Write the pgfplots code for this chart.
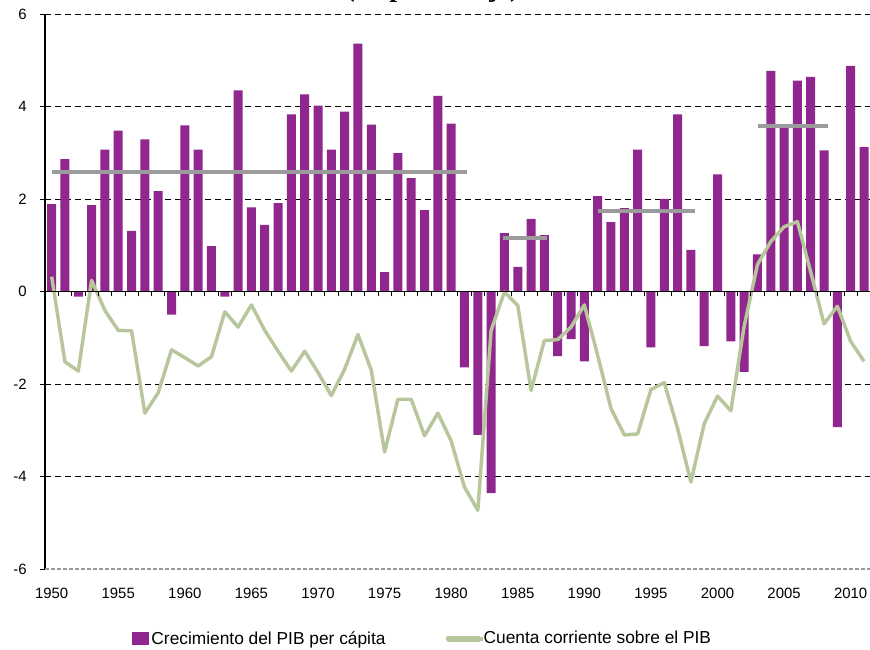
\documentclass[border=0pt]{standalone}
\usepackage{pgfplots}
\pgfplotsset{compat=1.18}
\usepackage{fontspec}
\setmainfont{Liberation Sans}
\newfontfamily\titlefont{Liberation Serif}
\definecolor{barpurple}{RGB}{143,39,143}
\definecolor{linegreen}{RGB}{183,199,155}
\definecolor{avggray}{RGB}{155,155,155}
\begin{document}
\begin{tikzpicture}[x=1pt,y=1pt]
\useasboundingbox (0,0) rectangle (652.5,486.75);
\node[anchor=base, font=\titlefont\bfseries\itshape\fontsize{21}{25}\selectfont] at (326,489) {(en porcentaje)};
\begin{axis}[
  at={(33.75pt,60pt)}, anchor=south west, scale only axis,
  width=618.75pt, height=416.25pt,
  xmin=1949.5, xmax=2011.45, ymin=-6, ymax=6,
  axis y line=left, axis x line*=bottom, axis line style={-},
  x axis line style={draw=none},
  y axis line style={black, line width=0.8pt},
  ytick={-4,-2,...,6},
  extra y ticks={-6},
  extra y tick style={grid style={gray!80, line width=0.8pt, dash pattern=on 3pt off 1.5pt}},
  xtick={1950,1955,...,2010},
  xtick style={draw=none},
  ytick style={black, line width=0.6pt},
  tick align=outside, major tick length=3.75pt,
  ymajorgrids,
  grid style={black, line width=0.6pt, dash pattern=on 4.5pt off 3pt},
  x tick label style={/pgf/number format/1000 sep={}, yshift=-7pt},
  yticklabel shift=6.5pt,
  tick label style={font=\fontsize{11.2}{13}\selectfont},
  /pgf/number format/assume math mode=true,
  legend style={at={(0.1006,-0.1256)}, anchor=west, draw=none, fill=none,
    legend columns=2, font=\fontsize{13}{15}\selectfont,
    /tikz/every even column/.append style={column sep=43.5pt},
    legend cell align=left},
]
\addplot[ybar, bar width=6.75pt, fill=barpurple, draw=none,
  legend image code/.code={\path (0pt,-4.7pt) rectangle (12.4pt,4.7pt);
    \fill[barpurple] (0pt,-4.7pt) rectangle (9.4pt,4.7pt);}]
coordinates {
(1950,1.89) (1951,2.86) (1952,-0.11) (1953,1.87) (1954,3.07) (1955,3.48)
(1956,1.31) (1957,3.29) (1958,2.17) (1959,-0.50) (1960,3.59) (1961,3.07)
(1962,0.98) (1963,-0.11) (1964,4.35) (1965,1.82) (1966,1.44) (1967,1.91)
(1968,3.83) (1969,4.26) (1970,4.02) (1971,3.07) (1972,3.89) (1973,5.36)
(1974,3.61) (1975,0.42) (1976,2.99) (1977,2.45) (1978,1.76) (1979,4.23)
(1980,3.63) (1981,-1.64) (1982,-3.10) (1983,-4.36) (1984,1.26) (1985,0.53)
(1986,1.57) (1987,1.22) (1988,-1.40) (1989,-1.03) (1990,-1.51) (1991,2.06)
(1992,1.50) (1993,1.80) (1994,3.07) (1995,-1.21) (1996,2.00) (1997,3.83)
(1998,0.90) (1999,-1.18) (2000,2.53) (2001,-1.08) (2002,-1.74) (2003,0.80)
(2004,4.77) (2005,3.61) (2006,4.56) (2007,4.64) (2008,3.05) (2009,-2.93)
(2010,4.88) (2011,3.12)
};
\addlegendentry{Crecimiento del PIB per cápita}
\addplot[forget plot, avggray, line width=3pt] coordinates {(1950,2.59) (1981.2,2.59)};
\addplot[forget plot, avggray, line width=3pt] coordinates {(1983.9,1.16) (1987.2,1.16)};
\addplot[forget plot, avggray, line width=3pt] coordinates {(1991,1.75) (1998.3,1.75)};
\addplot[forget plot, avggray, line width=3pt] coordinates {(2003.05,3.57) (2008.3,3.57)};
\addplot[linegreen, line width=2.6pt, line join=round,
  legend image code/.code={\path (0pt,-1pt) rectangle (23.5pt,1pt);
    \draw[overlay, linegreen, line width=2.8pt] (0pt,0pt) -- (26pt,0pt);}]
coordinates {
(1950,0.32) (1951,-1.52) (1952,-1.72) (1953,0.24) (1954,-0.41) (1955,-0.84)
(1956,-0.85) (1957,-2.63) (1958,-2.19) (1959,-1.26) (1960,-1.43) (1961,-1.61)
(1962,-1.41) (1963,-0.44) (1964,-0.77) (1965,-0.29) (1966,-0.84) (1967,-1.29)
(1968,-1.72) (1969,-1.29) (1970,-1.75) (1971,-2.25) (1972,-1.68) (1973,-0.93)
(1974,-1.70) (1975,-3.47) (1976,-2.33) (1977,-2.33) (1978,-3.12) (1979,-2.63)
(1980,-3.23) (1981,-4.23) (1982,-4.73) (1983,-0.84) (1984,-0.01) (1985,-0.30)
(1986,-2.14) (1987,-1.06) (1988,-1.04) (1989,-0.77) (1990,-0.29) (1991,-1.38)
(1992,-2.53) (1993,-3.10) (1994,-3.08) (1995,-2.12) (1996,-1.97) (1997,-2.96)
(1998,-4.12) (1999,-2.86) (2000,-2.26) (2001,-2.58) (2002,-0.75) (2003,0.58)
(2004,1.08) (2005,1.40) (2006,1.51) (2007,0.42) (2008,-0.70) (2009,-0.32)
(2010,-1.08) (2011,-1.51)
};
\addlegendentry{Cuenta corriente sobre el PIB}
\end{axis}
\begin{axis}[
  at={(33.75pt,60pt)}, anchor=south west, scale only axis,
  width=618.75pt, height=416.25pt,
  xmin=1949.5, xmax=2011.45, ymin=-6, ymax=6,
  axis x line=middle, axis y line=none,
  axis line style={-, black, line width=0.8pt},
  xtick={1949.5,1950.5,...,2011.5}, xticklabels={},
  ytick=\empty,
  xtick style={black, line width=0.6pt},
  tick align=outside, major tick length=3.75pt,
]
\end{axis}
\end{tikzpicture}
\end{document}
